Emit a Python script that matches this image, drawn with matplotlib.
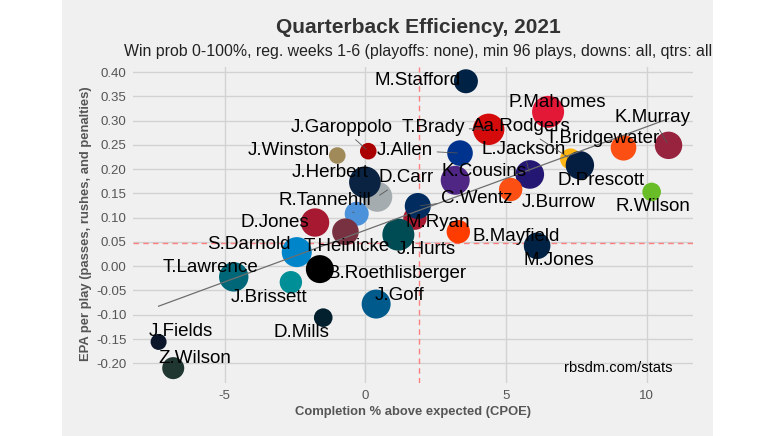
import numpy as np
import matplotlib
matplotlib.use("Agg")
import matplotlib.pyplot as plt
from matplotlib.patches import Rectangle
from matplotlib.ticker import FixedLocator, FuncFormatter
from matplotlib.transforms import ScaledTranslation

# ---------------- data ----------------
players = ["J.Fields", "Z.Wilson", "D.Mills", "J.Brissett", "T.Lawrence", "J.Goff",
           "S.Darnold", "B.Roethlisberger", "D.Jones", "R.Tannehill", "T.Heinicke",
           "D.Carr", "J.Herbert", "J.Winston", "J.Garoppolo", "M.Ryan", "J.Hurts",
           "C.Wentz", "B.Mayfield", "M.Jones", "K.Cousins", "J.Allen", "L.Jackson",
           "J.Burrow", "Aa.Rodgers", "D.Prescott", "T.Brady", "M.Stafford",
           "P.Mahomes", "T.Bridgewater", "K.Murray", "R.Wilson"]
cpoe = [-7.35, -6.83, -1.50, -2.65, -4.68, 0.38,
        -2.44, -1.62, -1.79, -0.31, -0.71,
        0.42, -0.02, -1.00, 0.10, 1.76, 1.17,
        1.86, 3.30, 6.10, 3.19, 3.36, 5.84,
        5.16, 7.29, 7.62, 4.38, 3.57,
        6.49, 9.17, 10.77, 10.17]
epa = [-0.156, -0.210, -0.106, -0.033, -0.022, -0.078,
       0.029, -0.006, 0.090, 0.108, 0.071,
       0.143, 0.173, 0.228, 0.237, 0.099, 0.065,
       0.124, 0.071, 0.042, 0.177, 0.233, 0.189,
       0.158, 0.221, 0.208, 0.282, 0.381,
       0.318, 0.244, 0.249, 0.153]
plays = [96, 182, 130, 188, 324, 315,
         338, 294, 302, 216, 265,
         338, 374, 103, 103, 205, 384,
         254, 205, 265, 315, 246, 307,
         205, 165, 302, 370, 216,
         384, 246, 282, 130]
team_colors = ["#0B162A", "#203731", "#03202F", "#008E97", "#006778", "#005A8B",
               "#0085CA", "#000000", "#A71930", "#4B92DB", "#773141",
               "#A5ACAF", "#0A2342", "#A08A5A", "#AA0000", "#A71930", "#004C54",
               "#002C5F", "#FF3C00", "#002244", "#4F2683", "#00338D", "#241773",
               "#FB4F14", "#FFB612", "#041E42", "#D50A0A", "#002244",
               "#E31837", "#FB4F14", "#97233F", "#69BE28"]
league_cpoe = 1.90
league_epa = 0.048

# label positions (text centres, data units) as placed in the reference
label_x = [-6.57, -6.06, -2.27, -3.42, -5.50, 1.20,
           -4.14, 1.11, -3.21, -1.44, -0.67,
           1.43, -1.24, -2.71, -0.83, 2.56, 2.15,
           3.95, 5.35, 6.88, 4.21, 1.40, 5.61,
           6.86, 5.55, 8.39, 2.41, 1.84,
           6.81, 8.43, 10.19, 10.20]
label_y = [-0.131, -0.186, -0.133, -0.061, 0.001, -0.056,
           0.048, -0.011, 0.094, 0.140, 0.044,
           0.186, 0.197, 0.243, 0.290, 0.095, 0.039,
           0.143, 0.066, 0.016, 0.200, 0.243, 0.245,
           0.136, 0.291, 0.181, 0.289, 0.386,
           0.341, 0.267, 0.311, 0.128]
with_leader = {"J.Garoppolo", "T.Brady", "J.Allen", "Aa.Rodgers", "L.Jackson",
               "K.Murray", "D.Carr", "R.Tannehill", "C.Wentz"}

title = "Quarterback Efficiency, 2021"
subtitle = "Win prob 0-100%, reg. weeks 1-6 (playoffs: none), min 96 plays, downs: all, qtrs: all"
xlabel = "Completion % above expected (CPOE)"
ylabel = "EPA per play (passes, rushes, and penalties)"
credit = "rbsdm.com/stats"
x_ticks = [-5, 0, 5, 10]
y_ticks = [-0.20, -0.15, -0.10, -0.05, 0.00, 0.05, 0.10, 0.15, 0.20, 0.25, 0.30, 0.35, 0.40]

# ---------------- drawing ----------------
W, H = 775, 436
FONT = "Liberation Sans"
plt.rcParams["font.family"] = [FONT, "DejaVu Sans"]

fig = plt.figure(figsize=(W / 100, H / 100), dpi=100)
fig.patch.set_facecolor("white")
fig.patches.append(Rectangle((62 / W, 0), (712.7 - 62) / W, 1, transform=fig.transFigure,
                             facecolor="#F0F0F0", edgecolor="none", zorder=-5))

left, right, top, bottom = 132.7, 693.3, 66.7, 382.7
ax = fig.add_axes([left / W, 1 - bottom / H, (right - left) / W, (bottom - top) / H])
ax.set_zorder(2)
ax.set_facecolor("#F0F0F0")
for s in ax.spines.values():
    s.set_visible(False)
ax.set_xlim(-8.27, 11.65)
ax.set_ylim(-0.240, 0.411)

ax.xaxis.set_major_locator(FixedLocator(x_ticks))
ax.yaxis.set_major_locator(FixedLocator(y_ticks))
ax.xaxis.set_major_formatter(FuncFormatter(lambda v, p: f"{v:g}".replace("\u2212", "-")))
ax.yaxis.set_major_formatter(FuncFormatter(lambda v, p: f"{v:.2f}".replace("-0.00", "0.00")))
ax.tick_params(axis="both", length=0, labelsize=9.5, labelcolor="#555555")
ax.tick_params(axis="x", pad=5)
ax.tick_params(axis="y", pad=4.3)
ax.grid(True, color="#D2D2D2", lw=1.0)
ax.set_axisbelow(True)

ax.axvline(league_cpoe, color="#FF8080", lw=1.0, ls=(0, (4, 3)), zorder=1)
ax.axhline(league_epa, color="#FF8080", lw=1.0, ls=(0, (4, 3)), zorder=1)

sizes = np.array(plays) * (1.44 ** 2) / 1.5
ax.scatter(cpoe, epa, s=sizes, c=team_colors, edgecolors="none", zorder=3)

# linear fit
xs = np.array(cpoe)
ys = np.array(epa)
slope, intercept = np.polyfit(xs, ys, 1)
xf = np.array([xs.min(), xs.max()])
ax.plot(xf, intercept + slope * xf, color="#6E6E6E", lw=0.9, zorder=4)

shift = ax.transData + ScaledTranslation(0, -2 / 100, fig.dpi_scale_trans)
for name, px, py, lx, ly in zip(players, cpoe, epa, label_x, label_y):
    if name in with_leader:
        ax.annotate(name, xy=(px, py), xytext=(lx, ly), textcoords=shift,
                    ha="center", va="center",
                    fontsize=13.5, color="black", zorder=5,
                    arrowprops=dict(arrowstyle="-", color="#555555", lw=0.6,
                                    shrinkA=1, shrinkB=2))
    else:
        ax.text(lx, ly, name, ha="center", va="center", fontsize=13.5, color="black",
                zorder=5, transform=shift)

ax.text(8.98, -0.210, credit, ha="center", va="center", fontsize=10.6, color="black", zorder=5)

cx = 418 / W
fig.text(cx, 1 - 33 / H, title, ha="center", va="baseline", fontsize=15,
         fontweight="bold", color="#333333")
fig.text(cx, 1 - 56 / H, subtitle, ha="center", va="baseline", fontsize=11.4, color="#222222")
fig.text((left + right) / 2 / W, 1 - 415 / H, xlabel, ha="center", va="baseline", fontsize=9.4,
         fontweight="bold", color="#555555")
fig.text(86.5 / W, 1 - 223.7 / H, ylabel, ha="center", va="center",
         rotation=90, fontsize=9.4, fontweight="bold", color="#555555")

fig.savefig("out.png", dpi=100, facecolor="white")
